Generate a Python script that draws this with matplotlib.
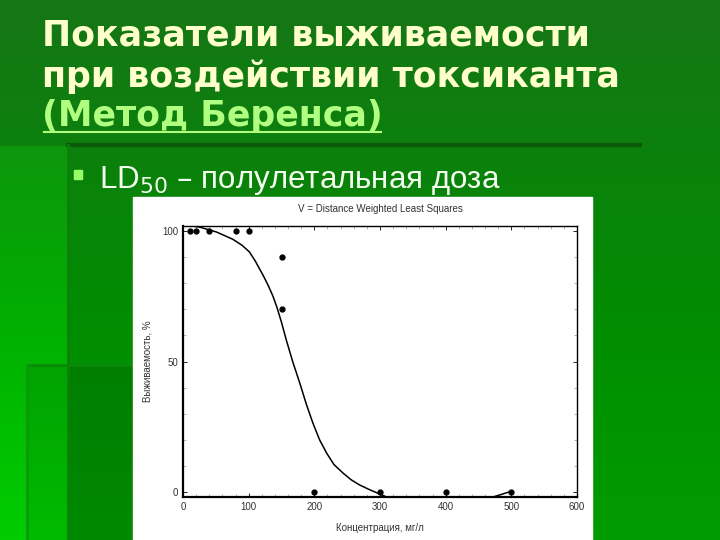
import numpy as np
import matplotlib
matplotlib.use("Agg")
import matplotlib.pyplot as plt
from matplotlib.patches import Rectangle
from matplotlib.ticker import MultipleLocator

# ---- data ----
conc = [10, 20, 40, 80, 100, 150, 150, 200, 300, 400, 500]
surv = [100, 100, 100, 100, 100, 90, 70, 0, 0, 0, 0]
curve_x = [0, 25, 51, 76, 90, 101, 110, 122, 130, 137, 143, 150, 157, 167, 178, 188, 198, 208, 219, 230, 244, 256,
           269, 285, 300, 320, 350, 400, 450, 472, 485, 500]
curve_y = [102.4, 101.5, 99.6, 96.8, 94.5, 92.0, 88.5, 83.0, 79.0, 75.0, 70.8, 65.0, 58.5, 50.0, 41.6, 33.5, 26.3,
           20.0, 14.8, 10.5, 7.2, 4.7, 2.7, 0.8, -0.8, -3.0, -5.0, -6.0, -4.5, -1.9, -0.9, 0.3]
x_ticks = [0, 100, 200, 300, 400, 500, 600]
y_ticks = [0, 50, 100]

W, H = 720, 540
fig = plt.figure(figsize=(7.2, 5.4), dpi=100)

# ---- background ----
bg = fig.add_axes([0, 0, 1, 1])
yy, xx = np.mgrid[0:H, 0:W]
t = yy / H
R = np.clip(22 - 35 * t, 0, 255)
G = 118 + 38 * t
B = np.clip(22 - 35 * t, 0, 255)
left = (xx < 68) & (yy > 145)
G = np.where(left, 130 + 75 * t, G)
low = (xx >= 27) & (xx < 133) & (yy > 365)
G = np.where(low, G - 18, G)
img = np.dstack([R, G, B]) / 255.0
bg.imshow(img, extent=[0, W, H, 0], aspect='auto')
bg.set_xlim(0, W)
bg.set_ylim(H, 0)
bg.axis('off')
bg.plot([68, 640], [145, 145], color='#0a5a0a', lw=3)
bg.plot([68, 68], [145, 540], color='#0b800b', lw=2)
bg.plot([27, 133], [365, 365], color='#0a8a0a', lw=2)
bg.plot([27, 27], [365, 540], color='#0a9a0a', lw=2)

# ---- title text ----
tf = dict(fontfamily=['DejaVu Sans'], fontweight='bold', fontsize=25)
bg.text(42, 45, "Показатели выживаемости", color='#ffffcc', va='baseline', **tf)
bg.text(42, 87, "при воздействии токсиканта", color='#ffffcc', va='baseline', **tf)
bg.text(42, 126, "(Метод Беренса)", color='#b0ff80', va='baseline', **tf)
bg.plot([44, 381], [132, 132], color='#b0ff80', lw=1.5)

bg.add_patch(Rectangle((74, 170), 8, 9, color='#99ff66'))
bg.text(99, 188, r"LD$_{50}$ – полулетальная доза", color='#f4fff0', va='baseline',
        fontfamily=['Liberation Sans', 'DejaVu Sans'], fontsize=22.5)

# ---- white chart box ----
bg.add_patch(Rectangle((133, 197), 459, 343, color='white', zorder=3))

# ---- chart ----
ax = fig.add_axes([183 / W, (H - 497) / H, (577 - 183) / W, (497 - 226) / H])
ax.plot(curve_x, curve_y, color='black', lw=1.1)
ax.plot(conc, surv, 'o', color='black', ms=3.5, clip_on=False)
ax.set_xlim(0, 600)
ax.set_ylim(-1.9, 101.9)
ax.set_xticks(x_ticks)
ax.set_yticks(y_ticks)
ax.xaxis.set_minor_locator(MultipleLocator(20))
ax.yaxis.set_minor_locator(MultipleLocator(10))
ax.tick_params(which='both', direction='in', top=True, right=True, labelsize=7, length=3, width=0.6,
               colors='black', labelcolor='#333333')
ax.tick_params(which='minor', length=2, color='#aaaaaa')
for lab in ax.get_xticklabels() + ax.get_yticklabels():
    lab.set_fontfamily('Liberation Sans')
for s in ['left', 'bottom']:
    ax.spines[s].set_linewidth(1.6)
for s in ['top', 'right']:
    ax.spines[s].set_linewidth(1.0)
ax.set_title("V = Distance Weighted Least Squares", fontsize=7, fontfamily='Liberation Sans',
             color='#333333', pad=10)
ax.set_xlabel("Концентрация, мг/л", fontsize=7, fontfamily='Liberation Sans', color='#333333', labelpad=8)
ax.set_ylabel("Выживаемость, %", fontsize=7, fontfamily='Liberation Sans', color='#333333', labelpad=7)

fig.savefig("out.png", dpi=100)
